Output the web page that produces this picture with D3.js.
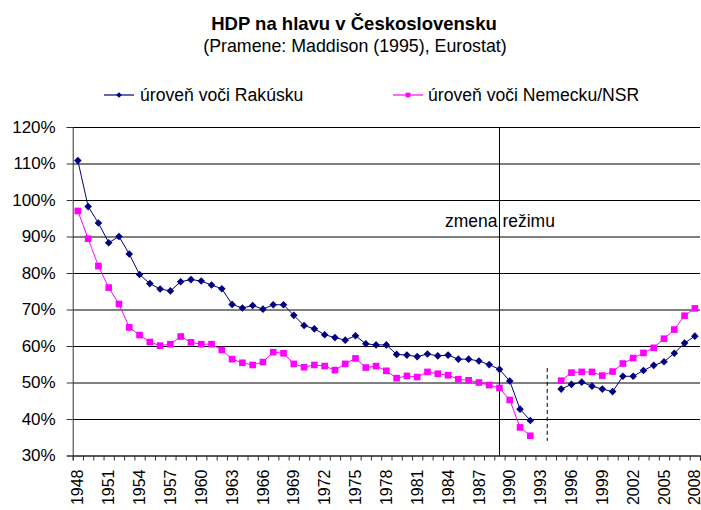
<!DOCTYPE html>
<html>
<head>
<meta charset="utf-8">
<script src="https://cdn.jsdelivr.net/npm/d3@7"></script>
<style>
  body { margin: 0; background: #fff; }
  text { font-family: Arial, "Liberation Sans", sans-serif; fill: #000; }
</style>
</head>
<body>
<div id="chart-area"></div>
<script>
/*
*    HDP na hlavu v Ceskoslovensku
*/
var years = d3.range(1948, 2009);

// share of Austria's GDP per capita (%), gap 1993-1994
var austria = [110.8, 98.2, 93.7, 88.3, 90.0, 85.2, 79.6, 77.1, 75.6, 75.1,
               77.6, 78.2, 77.8, 76.7, 75.7, 71.4, 70.4, 71.1, 70.1, 71.3,
               71.3, 68.4, 65.6, 64.7, 63.1, 62.3, 61.6, 62.8, 60.6, 60.3,
               60.3, 57.7, 57.5, 57.1, 57.8, 57.3, 57.5, 56.4, 56.4, 55.9,
               54.9, 53.6, 50.4, 42.7, 39.6, null, null, 48.2, 49.5, 50.1,
               49.0, 48.2, 47.5, 51.7, 51.7, 53.3, 54.7, 55.7, 58.0, 60.8,
               62.7];

// share of Germany / FRG GDP per capita (%)
var germany = [97.0, 89.4, 81.9, 76.0, 71.5, 65.1, 63.0, 61.1, 60.1, 60.5,
               62.6, 61.0, 60.5, 60.5, 58.9, 56.4, 55.4, 54.8, 55.6, 58.3,
               58.0, 55.1, 54.2, 54.8, 54.5, 53.4, 55.1, 56.6, 54.1, 54.5,
               53.2, 51.2, 51.8, 51.5, 52.9, 52.4, 52.0, 50.9, 50.6, 50.0,
               49.3, 48.5, 45.2, 37.7, 35.4, null, null, 50.5, 52.7, 52.9,
               52.9, 51.9, 53.0, 55.2, 56.7, 58.1, 59.5, 62.0, 64.5, 68.3,
               70.3];

var yTicks = [30, 40, 50, 60, 70, 80, 90, 100, 110, 120];
var xLabelYears = d3.range(1948, 2009, 3);
var regimeYear = 1989;
var breakYear = 1994;

var plotLeft = 72.7, plotRight = 700, plotTop = 127, plotBottom = 455.5;

var svg = d3.select("#chart-area").append("svg")
    .attr("width", 701)
    .attr("height", 510);

var x = d3.scaleBand()
    .domain(years)
    .range([plotLeft, plotRight]);

var xEdge = d3.scaleLinear()
    .domain([0, years.length])
    .range([plotLeft, plotRight]);

var y = d3.scaleLinear()
    .domain([30, 120])
    .range([plotBottom, plotTop]);

var cx = (yr) => { return x(yr) + x.bandwidth() / 2; };

// title
svg.append("text")
    .attr("x", 354).attr("y", 30)
    .attr("text-anchor", "middle")
    .style("font-size", "18.5px").style("font-weight", "bold")
    .text("HDP na hlavu v Československu");
svg.append("text")
    .attr("x", 355).attr("y", 52)
    .attr("text-anchor", "middle")
    .style("font-size", "17.8px")
    .text("(Pramene: Maddison (1995), Eurostat)");

// grid
svg.append("g")
    .attr("transform", "translate(" + plotLeft + ",0)")
    .call(d3.axisLeft(y).tickValues(yTicks).tickSize(-(plotRight - plotLeft)).tickFormat(""))
    .call(g => g.select(".domain").remove())
    .selectAll("line").attr("stroke", "#000");

// y axis
var yAxis = svg.append("g")
    .attr("transform", "translate(" + plotLeft + ",0)")
    .call(d3.axisLeft(y).tickValues(yTicks).tickSize(6).tickPadding(11)
        .tickFormat((d) => { return d + "%"; }));
yAxis.select(".domain").attr("stroke", "#333");
yAxis.selectAll("line").attr("stroke", "#333");
yAxis.selectAll("text").style("font-size", "17px").attr("fill", "#000");

// x axis ticks at category edges
var xTicks = svg.append("g")
    .attr("transform", "translate(0," + plotBottom + ")")
    .call(d3.axisBottom(xEdge).tickValues(d3.range(0, years.length + 1))
        .tickSize(5).tickFormat(""));
xTicks.select(".domain").attr("stroke", "#333");
xTicks.selectAll("line").attr("stroke", "#333");

// x labels
var xAxis = svg.append("g")
    .attr("transform", "translate(0," + plotBottom + ")")
    .call(d3.axisBottom(x).tickValues(xLabelYears).tickSize(0));
xAxis.select(".domain").remove();
xAxis.selectAll("text")
    .style("font-size", "16px")
    .attr("transform", "rotate(-90)")
    .attr("text-anchor", "end")
    .attr("x", -14)
    .attr("y", 0)
    .attr("dy", "0.35em");

// regime change line
svg.append("line")
    .attr("x1", cx(regimeYear)).attr("x2", cx(regimeYear))
    .attr("y1", y(120)).attr("y2", y(30))
    .attr("stroke", "#000").attr("stroke-width", 1);
svg.append("text")
    .attr("x", 445).attr("y", 227)
    .style("font-size", "17.5px")
    .text("zmena režimu");

// break line
svg.append("line")
    .attr("x1", x(breakYear) + 1.5).attr("x2", x(breakYear) + 1.5)
    .attr("y1", y(54)).attr("y2", y(34))
    .attr("stroke", "#000").attr("stroke-width", 1)
    .attr("stroke-dasharray", "4,3");

var series = [
    { name: "úroveň voči Rakúsku", values: austria, color: "#000080", shape: "diamond" },
    { name: "úroveň voči Nemecku/NSR", values: germany, color: "#ff00ff", shape: "square" }
];

var line = d3.line()
    .defined((d) => { return d.v !== null; })
    .x((d) => { return cx(d.year); })
    .y((d) => { return y(d.v); });

var markerPath = (shape, small) => {
    if (shape === "diamond") {
        return d3.symbol(d3.symbolSquare, small ? 16 : 29)();
    }
    return d3.symbol(d3.symbolSquare, small ? 22 : 44)();
};

series.forEach((s) => {
    var pts = years.map((yr, i) => { return { year: yr, v: s.values[i] }; });
    svg.append("path")
        .datum(pts)
        .attr("fill", "none")
        .attr("stroke", s.color)
        .attr("stroke-width", 1)
        .attr("d", line);
    svg.selectAll(null)
        .data(pts.filter((d) => { return d.v !== null; }))
        .enter()
        .append("path")
            .attr("d", markerPath(s.shape, false))
            .attr("fill", s.color)
            .attr("transform", (d) => {
                return "translate(" + cx(d.year) + "," + y(d.v) + ")" +
                    (s.shape === "diamond" ? " rotate(45)" : "");
            });
});

// legend
var legendPos = [{ x: 104, tx: 140 }, { x: 393, tx: 428 }];
series.forEach((s, i) => {
    var lg = svg.append("g").attr("transform", "translate(" + legendPos[i].x + ",95)");
    lg.append("line").attr("x1", 0).attr("x2", 30).attr("y1", 0).attr("y2", 0)
        .attr("stroke", s.color).attr("stroke-width", 1.2);
    lg.append("path")
        .attr("d", markerPath(s.shape, true))
        .attr("fill", s.color)
        .attr("transform", "translate(15,0)" + (s.shape === "diamond" ? " rotate(45)" : ""));
    svg.append("text")
        .attr("x", legendPos[i].tx).attr("y", 101)
        .style("font-size", "17.6px")
        .text(s.name);
});
</script>
</body>
</html>
